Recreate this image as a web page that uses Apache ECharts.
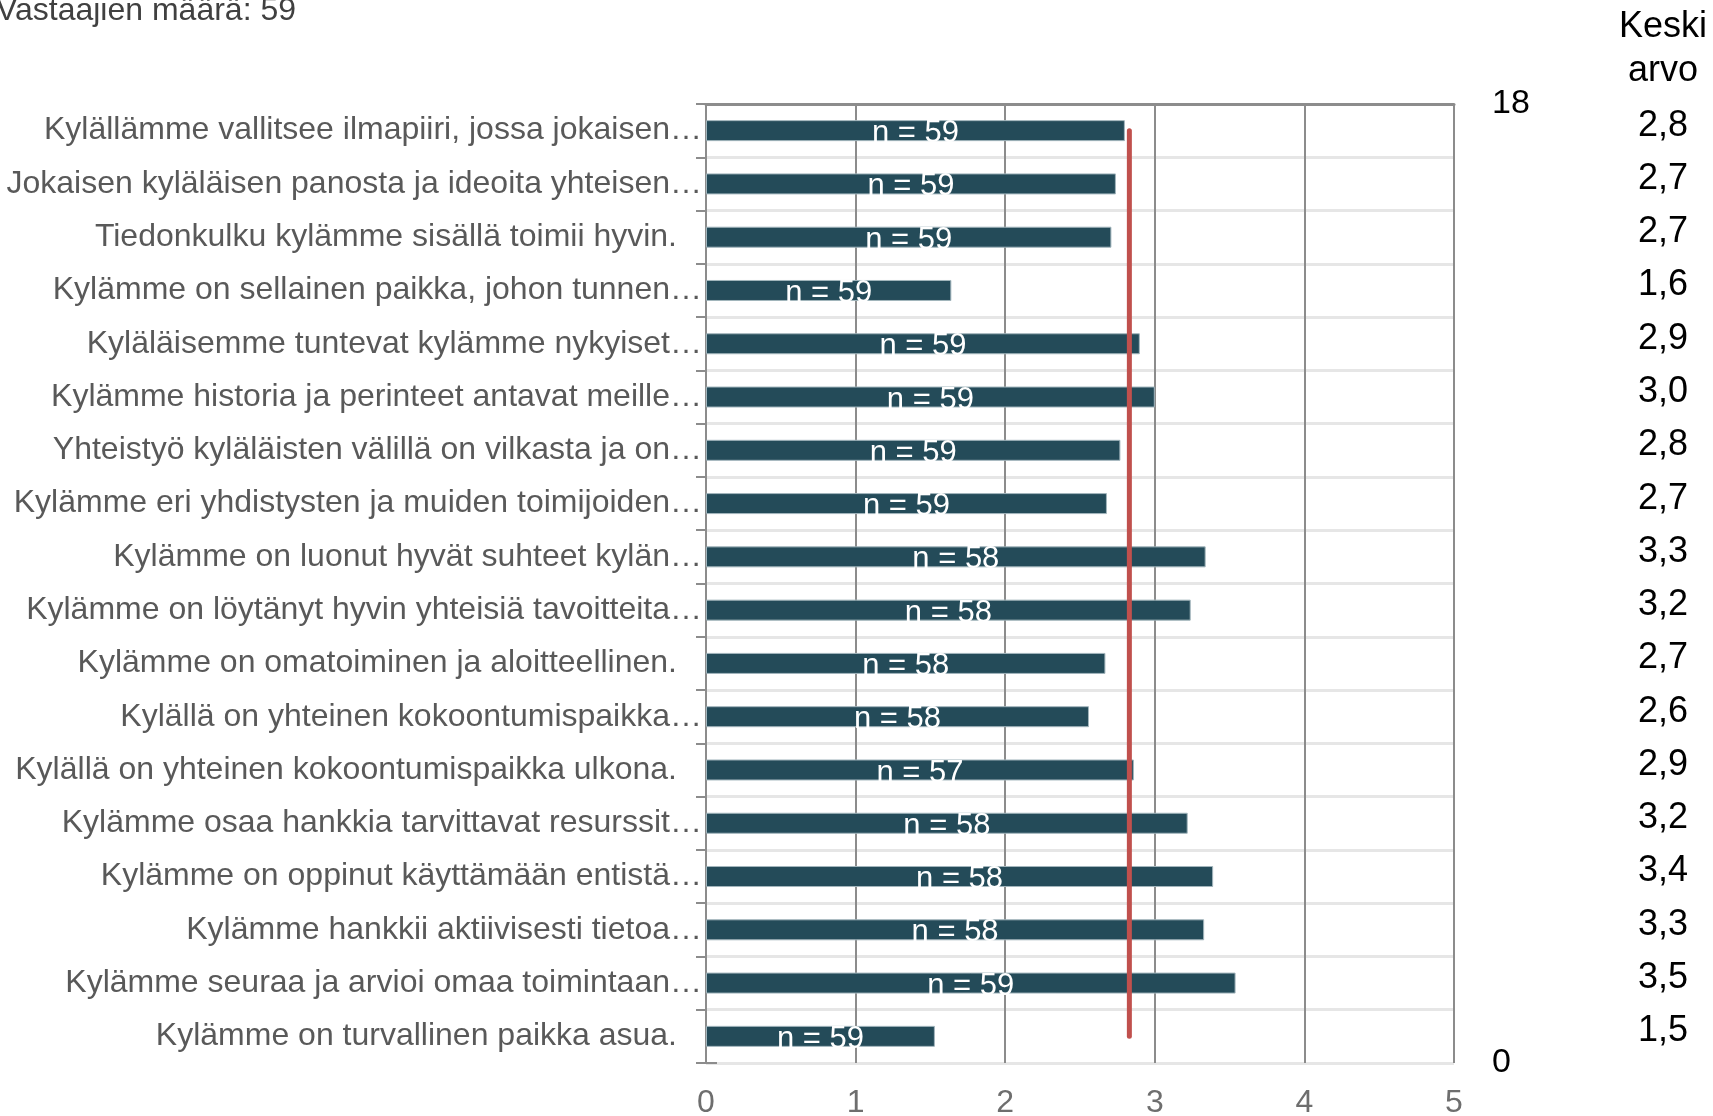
<!DOCTYPE html>
<html>
<head>
<meta charset="utf-8">
<script src="https://cdn.jsdelivr.net/npm/echarts@6/dist/echarts.min.js"></script>
<style>
html,body{margin:0;padding:0;background:#fff;}
#chart{width:1713px;height:1116px;}
</style>
</head>
<body>
<div id="chart"></div>
<script>
const categories = [
  "Kylällämme vallitsee ilmapiiri, jossa jokaisen…",
  "Jokaisen kyläläisen panosta ja ideoita yhteisen…",
  "Tiedonkulku kylämme sisällä toimii hyvin.",
  "Kylämme on sellainen paikka, johon tunnen…",
  "Kyläläisemme tuntevat kylämme nykyiset…",
  "Kylämme historia ja perinteet antavat meille…",
  "Yhteistyö kyläläisten välillä on vilkasta ja on…",
  "Kylämme eri yhdistysten ja muiden toimijoiden…",
  "Kylämme on luonut hyvät suhteet kylän…",
  "Kylämme on löytänyt hyvin yhteisiä tavoitteita…",
  "Kylämme on omatoiminen ja aloitteellinen.",
  "Kylällä on yhteinen kokoontumispaikka…",
  "Kylällä on yhteinen kokoontumispaikka ulkona.",
  "Kylämme osaa hankkia tarvittavat resurssit…",
  "Kylämme on oppinut käyttämään entistä…",
  "Kylämme hankkii aktiivisesti tietoa…",
  "Kylämme seuraa ja arvioi omaa toimintaan…",
  "Kylämme on turvallinen paikka asua."
];
const barValues = [2.80, 2.74, 2.71, 1.64, 2.90, 3.00, 2.77, 2.68, 3.34, 3.24, 2.67, 2.56, 2.86, 3.22, 3.39, 3.33, 3.54, 1.53];
const nValues = [59, 59, 59, 59, 59, 59, 59, 59, 58, 58, 58, 58, 57, 58, 58, 58, 59, 59];
const meanLabels = ["2,8", "2,7", "2,7", "1,6", "2,9", "3,0", "2,8", "2,7", "3,3", "3,2", "2,7", "2,6", "2,9", "3,2", "3,4", "3,3", "3,5", "1,5"];
const overallMean = 2.83;
const xTicks = [0, 1, 2, 3, 4, 5];
const rightTicks = [0, 18];
const titleText = "Vastaajien määrä: 59";
const meanHeader = "Keski\narvo";

const FONT = "'Liberation Sans', Arial, sans-serif";
const chart = echarts.init(document.getElementById('chart'));
const option = {
  animation: false,
  textStyle: { fontFamily: FONT },
  grid: { left: 706, right: 259, top: 104, bottom: 53, containLabel: false, outerBoundsMode: 'none' },
  graphic: [
    { type: 'text', left: -4, top: -5, style: { text: titleText, font: '32px ' + FONT, fill: '#404040' } },
    { type: 'text', x: 1663, y: 5, style: { text: meanHeader, font: '36px ' + FONT, fill: '#000', align: 'center', lineHeight: 44 } }
  ],
  xAxis: [
    {
      type: 'value', min: xTicks[0], max: xTicks[xTicks.length - 1], interval: 1, position: 'bottom',
      axisLine: { show: false }, axisTick: { show: false },
      axisLabel: { fontSize: 32, color: '#6e6e6e', margin: 24 },
      splitLine: { show: true, lineStyle: { color: '#8c8c8c', width: 2 } }
    },
    {
      type: 'value', min: xTicks[0], max: xTicks[xTicks.length - 1], interval: 1, position: 'top',
      axisLine: { show: true, lineStyle: { color: '#8c8c8c', width: 3 } },
      axisTick: { show: false }, axisLabel: { show: false }, splitLine: { show: false }
    }
  ],
  yAxis: [
    {
      type: 'category', data: categories, inverse: true, position: 'left',
      axisLine: { show: true, lineStyle: { color: '#8c8c8c', width: 2 } },
      axisTick: { show: true, interval: 0, length: 10, lineStyle: { color: '#8c8c8c', width: 2 } },
      axisLabel: {
        interval: 0, fontSize: 32, color: '#595959', margin: 4,
        formatter: function (v) { return v.endsWith('…') ? '{a|' + v + '}' : '{b|' + v + '}'; },
        rich: {
          a: { fontSize: 32, color: '#595959' },
          b: { fontSize: 32, color: '#595959', padding: [0, 25, 0, 0] }
        }
      },
      splitLine: { show: true, interval: 0, lineStyle: { color: '#e6e6e6', width: 3 } }
    },
    {
      type: 'value', min: rightTicks[0], max: rightTicks[1], interval: rightTicks[1] - rightTicks[0], position: 'right',
      axisLine: { show: true, lineStyle: { color: '#8c8c8c', width: 2 } },
      axisTick: { show: true, length: 11, lineStyle: { color: '#8c8c8c', width: 2 } },
      axisLabel: { fontSize: 34, color: '#000', margin: 38, padding: [8, 0, 0, 0] },
      splitLine: { show: false }
    },
    {
      type: 'category', data: meanLabels, inverse: true, position: 'right', offset: 0,
      axisLine: { show: false }, axisTick: { show: false }, splitLine: { show: false },
      axisLabel: {
        interval: 0, margin: 209, align: 'center',
        formatter: function (v) { return '{m|' + v + '}'; },
        rich: { m: { fontSize: 36, color: '#000', padding: [0, 0, 10, 0] } }
      }
    }
  ],
  series: [
    {
      type: 'bar', xAxisIndex: 0, yAxisIndex: 0, data: barValues, barWidth: 21,
      itemStyle: { color: '#244b59', borderColor: '#a3b6bd', borderWidth: 1 },
      label: {
        show: true, position: 'inside', color: '#fff', fontSize: 31, offset: [0, 3],
        formatter: function (p) { return 'n = ' + nValues[p.dataIndex]; }
      }
    },
    {
      type: 'line', xAxisIndex: 0, yAxisIndex: 0, symbol: 'none', silent: true, z: 5,
      data: [[overallMean, categories[0]], [overallMean, categories[categories.length - 1]]],
      lineStyle: { color: '#C0504D', width: 5, cap: 'round' }
    }
  ]
};
chart.setOption(option);
</script>
</body>
</html>
